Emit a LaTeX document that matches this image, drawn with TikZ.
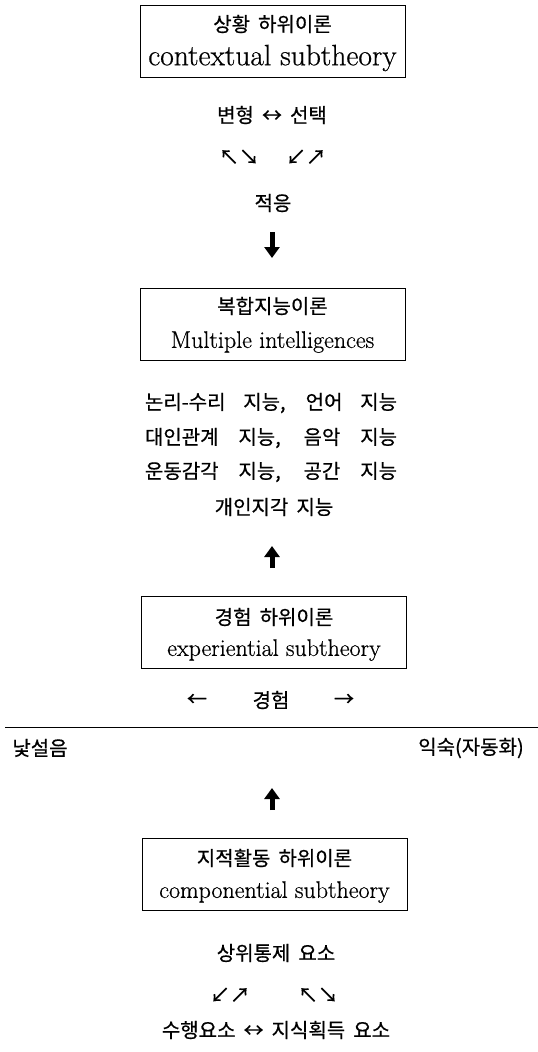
\documentclass[tikz,border=0pt]{standalone}
\usepackage{fontspec}
\usetikzlibrary{arrows.meta}
\newfontfamily\kofont[WordSpace=1.8,FakeBold=0.6]{Noto Sans CJK KR}
\newfontfamily\enfont[FakeBold=0.6]{Latin Modern Roman}
\tikzset{
  box/.style={draw, line width=0.8pt, minimum width=265pt, minimum height=72pt, inner sep=0pt},
  ko/.style={font=\kofont\fontsize{20}{23}\selectfont, inner sep=0pt},
  en/.style={font=\enfont\fontsize{24}{28}\selectfont, inner sep=0pt},
  fat/.style={line width=5pt, -{Triangle[width=15pt,length=11pt]}},
  rulel/.style={line width=1pt},
}
\begin{document}
\begin{tikzpicture}[x=1pt,y=-1pt]
\useasboundingbox (0,0) rectangle (538,1052);
% box 1
\node[box] (b1) at (272.5,41) {};
\node[ko] (b1k) at (272.5,24) {상황 하위이론};
\node[en, font=\enfont\fontsize{29.5}{33}\selectfont] (b1e) at (272.5,58) {contextual subtheory};
\node[ko] (vs) at (272,115) {변형 ↔ 선택};
\node[ko] (d1) at (239,157) {↖↘};
\node[ko] (d2) at (306,157) {↙↗};
\node[ko] (adapt) at (273,203) {적응};
\coordinate (a1s) at (272,232);
\coordinate (a1e) at (272,258);
\draw[fat] (a1s) -- (a1e);
% box 2
\node[box] (b2) at (272.5,324) {};
\node[ko] (b2k) at (272.5,306) {복합지능이론};
\node[en] (b2e) at (272.5,342) {Multiple intelligences};
\node[ko] (m1) at (271,403) {\makebox[252pt][s]{논리-수리 지능, 언어 지능}};
\node[ko] (m2) at (271,438) {\makebox[252pt][s]{대인관계 지능, 음악 지능}};
\node[ko] (m3) at (271,472) {\makebox[252pt][s]{운동감각 지능, 공간 지능}};
\node[ko] (m4) at (274,507) {개인지각 지능};
\coordinate (a2s) at (272,568);
\coordinate (a2e) at (272,546);
\draw[fat] (a2s) -- (a2e);
% box 3
\node[box] (b3) at (274,632) {};
\node[ko] (b3k) at (274,617) {경험 하위이론};
\node[en] (b3e) at (274,650) {experiential subtheory};
\node[ko] (la) at (197,700) {←};
\node[ko] (exp) at (271,700) {경험};
\node[ko] (ra) at (344,700) {→};
\coordinate (r1) at (5,727);
\coordinate (r2) at (538,727);
\draw[rulel] (r1) -- (r2);
\node[ko] (unf) at (40,748) {낯설음};
\node[ko] (fam) at (471,748) {익숙(자동화)};
\coordinate (a3s) at (272,810);
\coordinate (a3e) at (272,788);
\draw[fat] (a3s) -- (a3e);
% box 4
\node[box] (b4) at (274.5,874) {};
\node[ko] (b4k) at (274.5,858) {지적활동 하위이론};
\node[en] (b4e) at (274.5,892) {componential subtheory};
\node[ko] (meta) at (276,953) {상위통제 요소};
\node[ko] (d3) at (230,995) {↙↗};
\node[ko] (d4) at (318,995) {↖↘};
\node[ko] (perf) at (276,1030) {수행요소 ↔ 지식획득 요소};
\end{tikzpicture}
\end{document}
